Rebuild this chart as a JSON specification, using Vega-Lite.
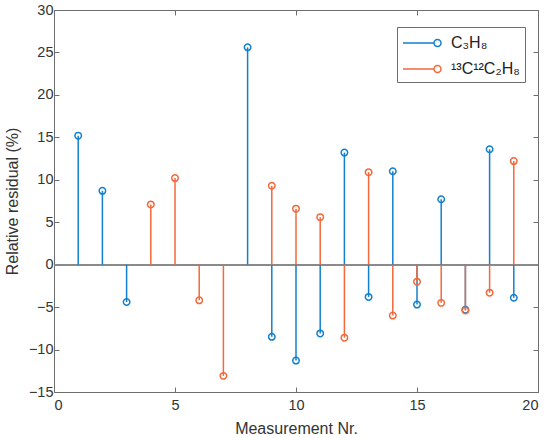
{
  "$schema": "https://vega.github.io/schema/vega-lite/v6.json",
  "autosize": "none",
  "width": 484,
  "height": 382,
  "padding": {"left": 54, "top": 10, "right": 12, "bottom": 46},
  "background": "white",
  "config": {
    "font": "Liberation Sans",
    "view": {"stroke": "#6e6e6e", "strokeWidth": 1},
    "axis": {
      "labelFont": "Liberation Sans",
      "labelFontSize": 14.5,
      "labelColor": "#333333",
      "titleFont": "Liberation Sans",
      "titleFontSize": 16,
      "titleFontWeight": "normal",
      "titleColor": "#333333",
      "domain": false,
      "grid": false,
      "tickColor": "#6e6e6e",
      "tickSize": -5,
      "tickWidth": 1
    }
  },
  "data": {
    "values": [
      {"n": 1, "series": "C3H8", "value": 15.2},
      {"n": 2, "series": "C3H8", "value": 8.7},
      {"n": 3, "series": "C3H8", "value": -4.4},
      {"n": 8, "series": "C3H8", "value": 25.6},
      {"n": 9, "series": "C3H8", "value": -8.5},
      {"n": 10, "series": "C3H8", "value": -11.3},
      {"n": 11, "series": "C3H8", "value": -8.1},
      {"n": 12, "series": "C3H8", "value": 13.2},
      {"n": 13, "series": "C3H8", "value": -3.8},
      {"n": 14, "series": "C3H8", "value": 11.0},
      {"n": 15, "series": "C3H8", "value": -4.7},
      {"n": 16, "series": "C3H8", "value": 7.7},
      {"n": 17, "series": "C3H8", "value": -5.3},
      {"n": 18, "series": "C3H8", "value": 13.6},
      {"n": 19, "series": "C3H8", "value": -3.9},
      {"n": 4, "series": "13C12C2H8", "value": 7.1},
      {"n": 5, "series": "13C12C2H8", "value": 10.2},
      {"n": 6, "series": "13C12C2H8", "value": -4.2},
      {"n": 7, "series": "13C12C2H8", "value": -13.1},
      {"n": 9, "series": "13C12C2H8", "value": 9.3},
      {"n": 10, "series": "13C12C2H8", "value": 6.6},
      {"n": 11, "series": "13C12C2H8", "value": 5.6},
      {"n": 12, "series": "13C12C2H8", "value": -8.6},
      {"n": 13, "series": "13C12C2H8", "value": 10.9},
      {"n": 14, "series": "13C12C2H8", "value": -6.0},
      {"n": 15, "series": "13C12C2H8", "value": -2.0},
      {"n": 16, "series": "13C12C2H8", "value": -4.5},
      {"n": 17, "series": "13C12C2H8", "value": -5.4},
      {"n": 18, "series": "13C12C2H8", "value": -3.3},
      {"n": 19, "series": "13C12C2H8", "value": 12.2}
    ]
  },
  "resolve": {"axis": {"x": "independent", "y": "independent"}},
  "layer": [
    {
      "mark": {"type": "rule", "color": "#8a8a8a", "strokeWidth": 1.5},
      "encoding": {
        "y": {"datum": 0, "type": "quantitative", "scale": {"domain": [-15, 30], "nice": false}, "axis": null}
      }
    },
    {
      "mark": {"type": "rule", "strokeWidth": 1.5},
      "encoding": {
        "x": {
          "field": "n", "type": "quantitative",
          "scale": {"domain": [0, 20], "nice": false, "zero": false},
          "axis": {"values": [0, 5, 10, 15, 20], "title": "Measurement Nr.", "labelPadding": 11, "titlePadding": 9}
        },
        "y": {
          "field": "value", "type": "quantitative",
          "scale": {"domain": [-15, 30], "nice": false},
          "axis": {"values": [-15, -10, -5, 0, 5, 10, 15, 20, 25, 30], "title": "Relative residual (%)", "labelPadding": 6, "titlePadding": 8}
        },
        "y2": {"datum": 0},
        "color": {
          "field": "series", "type": "nominal",
          "scale": {"domain": ["C3H8", "13C12C2H8"], "range": ["#1380CF", "#F4683A"]},
          "legend": {
            "title": null,
            "orient": "none",
            "legendX": 343,
            "legendY": 17,
            "labelExpr": "datum.value == 'C3H8' ? 'C₃H₈' : '¹³C¹²C₂H₈'",
            "labelFont": "Liberation Sans",
            "labelFontSize": 16,
            "labelColor": "#222222",
            "labelOffset": 27,
            "symbolType": "M-1,0H2.1M2.8,0A0.35,0.35,0,1,1,2.1,0A0.35,0.35,0,1,1,2.8,0",
            "symbolSize": 400,
            "symbolStrokeWidth": 1.5,
            "symbolFillColor": "transparent",
            "strokeColor": "#6e6e6e",
            "fillColor": "white",
            "padding": 5,
            "rowPadding": 7
          }
        }
      }
    },
    {
      "mark": {"type": "point", "shape": "circle", "filled": false, "size": 42, "strokeWidth": 1.5, "opacity": 1},
      "encoding": {
        "x": {
          "field": "n", "type": "quantitative",
          "scale": {"domain": [0, 20], "nice": false, "zero": false},
          "axis": {"orient": "top", "values": [0, 5, 10, 15, 20], "labels": false, "title": null}
        },
        "y": {
          "field": "value", "type": "quantitative",
          "scale": {"domain": [-15, 30], "nice": false},
          "axis": {"orient": "right", "values": [-15, -10, -5, 0, 5, 10, 15, 20, 25, 30], "labels": false, "title": null}
        },
        "color": {
          "field": "series", "type": "nominal",
          "scale": {"domain": ["C3H8", "13C12C2H8"], "range": ["#1380CF", "#F4683A"]}
        }
      }
    }
  ]
}
